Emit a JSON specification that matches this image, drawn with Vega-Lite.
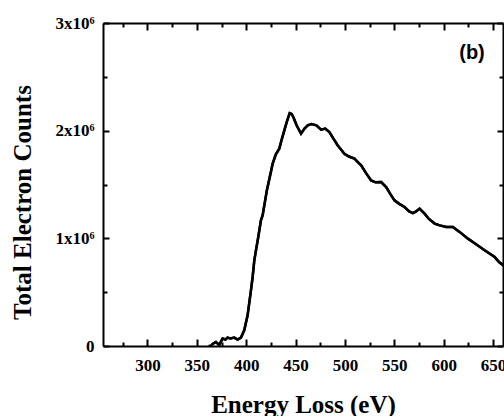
{
  "$schema": "https://vega.github.io/schema/vega-lite/v6.json",
  "width": 400,
  "height": 323,
  "autosize": "none",
  "padding": {"left": 103, "top": 23, "right": 1, "bottom": 70},
  "background": "white",
  "config": {
    "view": {"stroke": null},
    "axis": {
      "grid": false,
      "domainColor": "black",
      "domainWidth": 2,
      "tickColor": "black",
      "tickWidth": 2,
      "labelFont": "Liberation Serif",
      "labelFontWeight": "bold",
      "labelFontSize": 17,
      "labelColor": "black",
      "titleFont": "Liberation Serif",
      "titleFontWeight": "bold",
      "titleColor": "black"
    }
  },
  "data": {
    "values": [
      {"energy": 362, "counts": 0},
      {"energy": 364.4, "counts": 0},
      {"energy": 366, "counts": 20000},
      {"energy": 369.3, "counts": 37000},
      {"energy": 372.7, "counts": 10000},
      {"energy": 376.1, "counts": 70000},
      {"energy": 379, "counts": 60000},
      {"energy": 381.1, "counts": 78000},
      {"energy": 384, "counts": 70000},
      {"energy": 387.9, "counts": 78000},
      {"energy": 391.3, "counts": 60000},
      {"energy": 394.7, "counts": 78000},
      {"energy": 398, "counts": 146000},
      {"energy": 401.4, "counts": 285000},
      {"energy": 404.8, "counts": 517000},
      {"energy": 406.5, "counts": 641000},
      {"energy": 408.2, "counts": 796000},
      {"energy": 409.9, "counts": 889000},
      {"energy": 412, "counts": 1000000},
      {"energy": 414.9, "counts": 1167000},
      {"energy": 416.6, "counts": 1213000},
      {"energy": 421, "counts": 1450000},
      {"energy": 426.8, "counts": 1694000},
      {"energy": 430, "counts": 1780000},
      {"energy": 433.5, "counts": 1833000},
      {"energy": 436, "counts": 1920000},
      {"energy": 438.6, "counts": 2003000},
      {"energy": 441, "counts": 2080000},
      {"energy": 444, "counts": 2163000},
      {"energy": 446, "counts": 2155000},
      {"energy": 448, "counts": 2120000},
      {"energy": 451, "counts": 2050000},
      {"energy": 455.5, "counts": 1972000},
      {"energy": 459, "counts": 2020000},
      {"energy": 462.3, "counts": 2049000},
      {"energy": 466, "counts": 2062000},
      {"energy": 471, "counts": 2050000},
      {"energy": 475.8, "counts": 2009000},
      {"energy": 480, "counts": 2019000},
      {"energy": 484.2, "counts": 1987000},
      {"energy": 488, "counts": 1930000},
      {"energy": 492.7, "counts": 1863000},
      {"energy": 496, "counts": 1825000},
      {"energy": 499.4, "counts": 1786000},
      {"energy": 504, "counts": 1760000},
      {"energy": 509.6, "counts": 1740000},
      {"energy": 513, "counts": 1708000},
      {"energy": 516.4, "counts": 1678000},
      {"energy": 521, "counts": 1610000},
      {"energy": 526.5, "counts": 1538000},
      {"energy": 531, "counts": 1520000},
      {"energy": 536.6, "counts": 1523000},
      {"energy": 541.7, "counts": 1476000},
      {"energy": 546, "counts": 1410000},
      {"energy": 550.1, "counts": 1353000},
      {"energy": 555, "counts": 1320000},
      {"energy": 560.3, "counts": 1291000},
      {"energy": 565, "counts": 1250000},
      {"energy": 568.8, "counts": 1235000},
      {"energy": 572, "counts": 1250000},
      {"energy": 575.5, "counts": 1276000},
      {"energy": 580.6, "counts": 1229000},
      {"energy": 585, "counts": 1180000},
      {"energy": 590.8, "counts": 1137000},
      {"energy": 596, "counts": 1120000},
      {"energy": 602.6, "counts": 1105000},
      {"energy": 609.3, "counts": 1105000},
      {"energy": 616, "counts": 1060000},
      {"energy": 624.5, "counts": 997000},
      {"energy": 632, "counts": 950000},
      {"energy": 641.4, "counts": 889000},
      {"energy": 651.6, "counts": 826000},
      {"energy": 656, "counts": 780000},
      {"energy": 662.4, "counts": 733000}
    ]
  },
  "layer": [
    {
      "mark": {"type": "line", "color": "black", "strokeWidth": 2.5, "clip": true},
      "encoding": {
        "x": {
          "field": "energy",
          "type": "quantitative",
          "scale": {"domain": [255, 660], "nice": false, "zero": false},
          "axis": {
            "orient": "bottom",
            "values": [275, 300, 325, 350, 375, 400, 425, 450, 475, 500, 525, 550, 575, 600, 625, 650],
            "labelExpr": "datum.value % 50 == 0 ? datum.label : ''",
            "tickSize": {"condition": {"test": "datum.value % 50 == 0", "value": -7}, "value": -4},
            "labelPadding": 18,
            "title": "Energy Loss (eV)",
            "titleFontSize": 25,
            "titleBaseline": "alphabetic",
            "titleY": 66
          }
        },
        "y": {
          "field": "counts",
          "type": "quantitative",
          "scale": {"domain": [0, 3000000], "nice": false},
          "axis": {
            "orient": "left",
            "values": [0, 500000, 1000000, 1500000, 2000000, 2500000, 3000000],
            "labelExpr": "datum.value % 1000000 == 0 ? (datum.value == 0 ? '0' : (datum.value / 1000000) + 'x10\u2076') : ''",
            "tickSize": {"condition": {"test": "datum.value % 1000000 == 0", "value": -6}, "value": -4},
            "labelPadding": 15,
            "title": "Total Electron Counts",
            "titleFontSize": 25,
            "titleBaseline": "alphabetic",
            "titleX": -73,
            "titleY": 179
          }
        }
      }
    },
    {
      "mark": {"type": "line", "color": "black", "strokeWidth": 2.5, "clip": true},
      "encoding": {
        "x": {
          "field": "energy",
          "type": "quantitative",
          "axis": {
            "orient": "top",
            "values": [275, 300, 325, 350, 375, 400, 425, 450, 475, 500, 525, 550, 575, 600, 625, 650],
            "labels": false,
            "tickSize": {"condition": {"test": "datum.value % 50 == 0", "value": -7}, "value": -4},
            "title": null
          }
        },
        "y": {
          "field": "counts",
          "type": "quantitative",
          "axis": {
            "orient": "right",
            "values": [0, 500000, 1000000, 1500000, 2000000, 2500000, 3000000],
            "labels": false,
            "tickSize": {"condition": {"test": "datum.value % 1000000 == 0", "value": -6}, "value": -4},
            "title": null
          }
        }
      }
    },
    {
      "data": {"values": [{"label": "(b)"}]},
      "mark": {"type": "text", "font": "Liberation Sans", "fontWeight": "bold", "fontSize": 20, "align": "center", "baseline": "middle", "color": "black"},
      "encoding": {
        "x": {"datum": 628.6, "type": "quantitative", "axis": null},
        "y": {"datum": 2718000, "type": "quantitative", "axis": null},
        "text": {"field": "label"}
      }
    }
  ],
  "resolve": {"axis": {"x": "independent", "y": "independent"}}
}
